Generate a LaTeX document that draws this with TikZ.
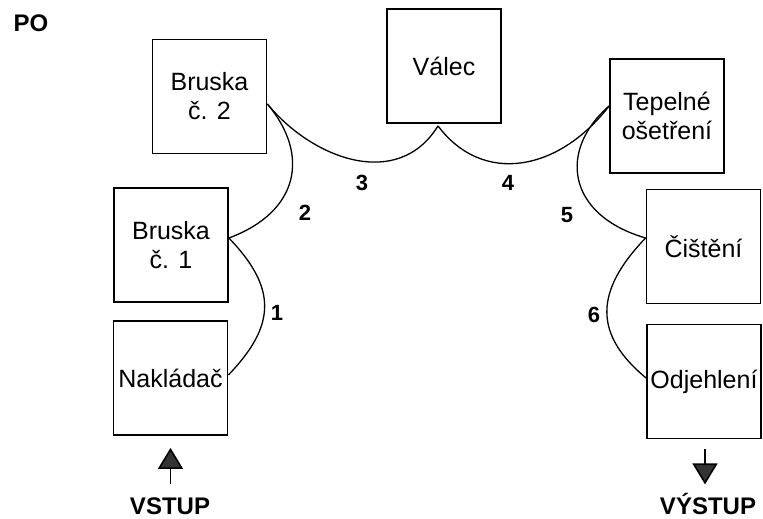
\documentclass[tikz,border=0pt]{standalone}
\usepackage{fontspec}
\setmainfont{Liberation Sans}
\usetikzlibrary{arrows.meta}
\begin{document}
\begin{tikzpicture}[x=1pt,y=1pt,
  box/.style={draw, line width=1.8pt, minimum width=114pt, minimum height=114pt,
    inner sep=0pt, align=center, font=\fontsize{25}{29}\selectfont},
  link/.style={line width=1.3pt},
  num/.style={font=\bfseries\fontsize{22}{24}\selectfont},
  io/.style={font=\bfseries\fontsize{24}{26}\selectfont},
  flow/.style={line width=1.6pt, -{Triangle[width=25pt,length=21pt,fill=black!80]}},
  ]
\useasboundingbox (0,0) rectangle (763,-519);

% stations
\node[box] (b2)  at (209.5,-96.5) {Bruska\\č. 2};
\node[box] (val) at (444,-66)     {Válec};
\node[box] (tep) at (667,-116)    {Tepelné\\ošetření};
\node[box] (b1)  at (171,-245)    {Bruska\\č. 1};
\node[box] (nak) at (170.5,-378)  {Nakládač};
\node[box] (cis) at (703.5,-246.5){Čištění};
\node[box] (odj) at (704,-381.5)  {Odjehlení};

% attachment points of the transfer paths
\coordinate (c-b2)  at ([yshift=-7.5pt]b2.east);
\coordinate (c-val) at ([xshift=-6pt,yshift=-2pt]val.south);
\coordinate (c-tep) at ([yshift=10pt]tep.west);
\coordinate (c-b1)  at ([yshift=7pt]b1.east);
\coordinate (c-nak) at ([yshift=3pt]nak.east);
\coordinate (c-cis) at ([yshift=8.5pt]cis.west);
\coordinate (c-odj) at ([yshift=3.5pt]odj.west);

% transfer paths
\draw[link] (c-nak) .. controls +(48,50) and +(48,-50) .. (c-b1);
\draw[link] (c-b1) .. controls +(70,26) and +(43,-51) .. (c-b2);
\draw[link] (c-b2) .. controls +(45,-55) and +(-40,-65) .. (c-val);
\draw[link] (c-val) .. controls +(45,-60) and +(-50,-65) .. (c-tep);
\draw[link] (c-tep) .. controls +(-51,-44) and +(-79,23) .. (c-cis);
\draw[link] (c-cis) .. controls +(-52,-54) and +(-52,43) .. (c-odj);

% path numbers
\node[num] (n1) at (277,-313) {1};
\node[num] (n2) at (305,-213) {2};
\node[num] (n3) at (362,-183) {3};
\node[num] (n4) at (508,-183) {4};
\node[num] (n5) at (567,-215) {5};
\node[num] (n6) at (594,-315) {6};

\node[io] (po) at (31,-23) {PO};

% input and output
\coordinate (in-a)  at ([yshift=-48pt]nak.south);
\coordinate (in-b)  at ([yshift=-12pt]nak.south);
\coordinate (out-a) at ([xshift=1pt,yshift=-10pt]odj.south);
\coordinate (out-b) at ([xshift=1pt,yshift=-45pt]odj.south);
\draw[flow] (in-a) -- (in-b);
\draw[flow] (out-a) -- (out-b);
\node[io, anchor=base] (vstup)  at (170,-514) {VSTUP};
\node[io, anchor=base] (vystup) at (708,-514) {VÝSTUP};
\end{tikzpicture}
\end{document}
